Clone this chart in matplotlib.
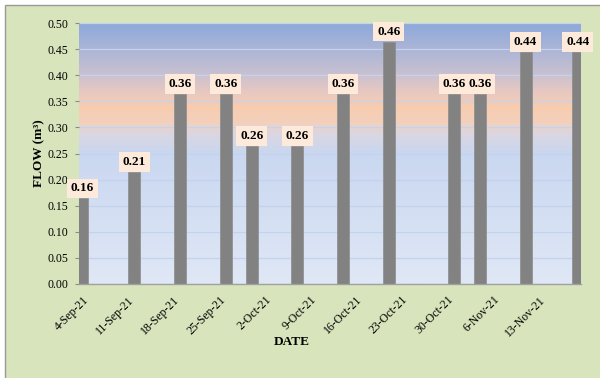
import matplotlib
matplotlib.use("Agg")
import matplotlib.pyplot as plt
import matplotlib.dates as mdates
from matplotlib.colors import LinearSegmentedColormap
from matplotlib.patches import Rectangle
import numpy as np
import datetime as dt

# ---- data ----
dates = ["2021-09-04", "2021-09-12", "2021-09-19", "2021-09-26", "2021-09-30",
         "2021-10-07", "2021-10-14", "2021-10-21", "2021-10-31", "2021-11-04",
         "2021-11-11", "2021-11-19"]
flow = [0.164, 0.214, 0.364, 0.364, 0.264, 0.264, 0.364, 0.464, 0.364, 0.364,
        0.444, 0.444]
tick_dates = ["2021-09-04", "2021-09-11", "2021-09-18", "2021-09-25", "2021-10-02",
              "2021-10-09", "2021-10-16", "2021-10-23", "2021-10-30", "2021-11-06",
              "2021-11-13"]
tick_labels = ["4-Sep-21", "11-Sep-21", "18-Sep-21", "25-Sep-21", "2-Oct-21",
               "9-Oct-21", "16-Oct-21", "23-Oct-21", "30-Oct-21", "6-Nov-21",
               "13-Nov-21"]
y_ticks = [0.00, 0.05, 0.10, 0.15, 0.20, 0.25, 0.30, 0.35, 0.40, 0.45, 0.50]

SERIF = ["Liberation Serif", "DejaVu Serif"]

x = mdates.date2num([dt.datetime.strptime(d, "%Y-%m-%d") for d in dates])
xt = mdates.date2num([dt.datetime.strptime(d, "%Y-%m-%d") for d in tick_dates])

W, H = 600, 378
fig = plt.figure(figsize=(W / 100, H / 100), dpi=100, facecolor="white")

# outer chart area (green with grey border, offset by a few px top/left)
fig.patches.append(Rectangle((5 / W, -0.02), 1.02, (H - 5) / H + 0.02,
                             transform=fig.transFigure, facecolor="#D8E4BC",
                             edgecolor="#9A9A9A", linewidth=1.0, zorder=-10))

ax = fig.add_axes([79 / W, (H - 284) / H, (581 - 79) / W, (284 - 23) / H])
ax.set_facecolor("none")

# gradient plot area
stops = [(0.00, "#E0E8F6"), (0.50, "#C9D7F0"), (0.58, "#DCD6E0"),
         (0.62, "#F3D0BC"), (0.68, "#F8CDB0"), (0.74, "#E6C8C2"),
         (0.82, "#C4BFD2"), (1.00, "#8EA9DB")]
cmap = LinearSegmentedColormap.from_list("bg", stops)
grad = np.linspace(0, 1, 400).reshape(-1, 1)
ax.imshow(grad, cmap=cmap, origin="lower", extent=[0, 1, 0, 1],
          transform=ax.transAxes, aspect="auto", zorder=0,
          interpolation="bilinear")

ax.bar(x, flow, width=1.85, color="#828282", zorder=2, edgecolor="#8C8C8C",
       linewidth=0.5)

for xi, v in zip(x, flow):
    ax.annotate(f"{v:.2f}", (xi, v), xytext=(0, 7.3), textcoords="offset points",
                ha="center", va="center", fontsize=9.5, fontweight="bold",
                family=SERIF, color="black", zorder=5, annotation_clip=False,
                bbox=dict(boxstyle="square,pad=0.28", facecolor="#FDEADA",
                          edgecolor="none"))

ax.set_xlim(x[0] - 0.5, x[-1] + 0.5)
ax.set_ylim(0, 0.5)
ax.set_yticks(y_ticks)
ax.set_yticklabels([f"{t:.2f}" for t in y_ticks], family=SERIF, fontsize=8.5)
ax.set_xticks(xt)
ax.set_xticklabels(tick_labels, family=SERIF, fontsize=8.5, rotation=45,
                   ha="right", va="top", rotation_mode="anchor")
ax.tick_params(axis="x", length=0, pad=7)
ax.tick_params(axis="y", length=3, width=0.8, color="#8C8C8C", pad=5)

ax.set_axisbelow(True)
ax.yaxis.grid(True, color="#C3D3EE", linewidth=0.9, zorder=1)
ax.xaxis.grid(False)

for s in ["top", "right", "left"]:
    ax.spines[s].set_visible(False)
ax.spines["bottom"].set_color("#A0A0A0")
ax.spines["bottom"].set_linewidth(1.0)
ax.spines["bottom"].set_zorder(3)

fig.text(292 / W, 1 - 342 / H, "DATE", ha="center", va="center",
         fontsize=9.5, fontweight="bold", family=SERIF)
fig.text(39 / W, 1 - 153 / H, "FLOW (m³)", ha="center", va="center",
         rotation=90, fontsize=9.5, fontweight="bold", family=SERIF)

fig.savefig("out.png", dpi=100, facecolor=fig.get_facecolor())
